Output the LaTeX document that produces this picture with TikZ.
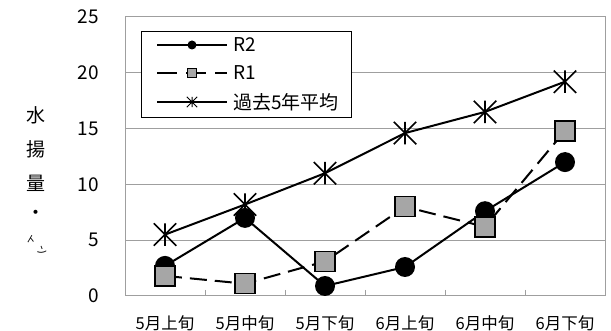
\documentclass[tikz,border=0pt]{standalone}
\usepackage{fontspec}
\setmainfont{Noto Sans CJK JP}
\begin{document}
\begin{tikzpicture}[x=1pt,y=-1pt,
  gridline/.style={draw=gray!75, line width=1pt},
  serline/.style={line width=2pt, black},
  dashline/.style={serline, dash pattern=on 17pt off 8pt},
  dotm/.style={circle, fill=black, inner sep=0pt, minimum size=20pt},
  sqm/.style={rectangle, fill=gray!70, draw=black, line width=1.6pt, inner sep=0pt, minimum size=20pt},
  starm/.style={rectangle, inner sep=0pt, minimum size=22pt},
  legdot/.style={circle, fill=black, inner sep=0pt, minimum size=9pt},
  legsq/.style={rectangle, fill=gray!70, draw=black, line width=1pt, inner sep=0pt, minimum size=9pt},
  legstar/.style={rectangle, inner sep=0pt, minimum size=10pt},
  ticklab/.style={font=\fontsize{19}{19}\selectfont, anchor=east, inner sep=0pt},
  catlab/.style={font=\fontsize{16.5}{17}\selectfont, inner sep=0pt},
  leglab/.style={font=\fontsize{19}{19}\selectfont, anchor=west, inner sep=0pt},
  ttl/.style={font=\fontsize{19}{19}\selectfont, inner sep=0pt},
  smallttl/.style={font=\fontsize{10}{10}\selectfont, inner sep=0pt, rotate=-30},
]
\useasboundingbox (0,0) rectangle (611,331);
\fill[white] (0,0) rectangle (611,331);

% plot area and grid
\draw[gridline] (125,17) rectangle (605,296);
\foreach \yy in {240.2,184.4,128.6,72.8}
  \draw[gridline] (125,\yy) -- (605,\yy);
\foreach \xx in {205,285,365,445,525}
  \draw[gridline] (\xx,290) -- (\xx,296);

% y tick labels
\node[ticklab] (t0)  at (99,296) {0};
\node[ticklab] (t5)  at (99,240.2) {5};
\node[ticklab] (t10) at (99,184.4) {10};
\node[ticklab] (t15) at (99,128.6) {15};
\node[ticklab] (t20) at (99,72.8) {20};
\node[ticklab] (t25) at (99,17) {25};

% y axis title
\node[ttl] (y1) at (36,115) {水};
\node[ttl] (y2) at (36,149) {揚};
\node[ttl] (y3) at (36,183) {量};
\node[ttl] (y4) at (36,215) {・};
\node[smallttl] (y5) at (31,240) {ト};
\node[smallttl] (y6) at (42,251) {ン};

% category labels
\node[catlab] (c1) at (165,323) {5月上旬};
\node[catlab] (c2) at (245,323) {5月中旬};
\node[catlab] (c3) at (325,323) {5月下旬};
\node[catlab] (c4) at (405,323) {6月上旬};
\node[catlab] (c5) at (485,323) {6月中旬};
\node[catlab] (c6) at (565,323) {6月下旬};

% data points
\coordinate (b1) at (165,265.9); \coordinate (b2) at (245,217.9);
\coordinate (b3) at (325,286.0); \coordinate (b4) at (405,267.0);
\coordinate (b5) at (485,211.2); \coordinate (b6) at (565,162.1);
\coordinate (s1) at (165,275.9); \coordinate (s2) at (245,283.7);
\coordinate (s3) at (325,261.4); \coordinate (s4) at (405,206.7);
\coordinate (s5) at (485,226.8); \coordinate (s6) at (565,130.8);
\coordinate (a1) at (165,234.6); \coordinate (a2) at (245,204.5);
\coordinate (a3) at (325,173.2); \coordinate (a4) at (405,133.1);
\coordinate (a5) at (485,111.9); \coordinate (a6) at (565,81.7);

% series lines
\draw[serline] (b1) -- (b2) -- (b3) -- (b4) -- (b5) -- (b6);
\draw[dashline] (s1) -- (s2) -- (s3) -- (s4) -- (s5) -- (s6);
\draw[serline] (a1) -- (a2) -- (a3) -- (a4) -- (a5) -- (a6);

% markers
\foreach \n in {1,...,6} \node[dotm] (bm\n) at (b\n) {};
\foreach \n in {1,...,6} \node[sqm] (sm\n) at (s\n) {};
\foreach \n in {1,...,6} {
  \node[starm] (am\n) at (a\n) {};
  \draw[line width=1.6pt] (am\n.north) -- (am\n.south)
    (am\n.north west) -- (am\n.south east) (am\n.north east) -- (am\n.south west);
}

% legend
\node[draw=black, line width=1.2pt, fill=white, minimum width=210pt, minimum height=86pt, anchor=north west, inner sep=0pt] (leg) at (141,31) {};
\coordinate (l1a) at (157,45);  \coordinate (l1b) at (227,45);
\coordinate (l2a) at (157,73);  \coordinate (l2b) at (227,73);
\coordinate (l3a) at (157,102); \coordinate (l3b) at (227,102);
\draw[serline] (l1a) -- (l1b);
\draw[serline, dash pattern=on 20pt off 9pt] (l2a) -- (l2b);
\draw[serline] (l3a) -- (l3b);
\node[legdot] (lm1) at (192,45) {};
\node[legsq] (lm2) at (192,73) {};
\node[legstar] (lm3) at (192,102) {};
\draw[line width=1pt] (lm3.north) -- (lm3.south)
  (lm3.north west) -- (lm3.south east) (lm3.north east) -- (lm3.south west);
\node[leglab] (lt1) at (233,45) {R2};
\node[leglab] (lt2) at (233,73) {R1};
\node[leglab] (lt3) at (233,102) {過去5年平均};
\end{tikzpicture}
\end{document}
